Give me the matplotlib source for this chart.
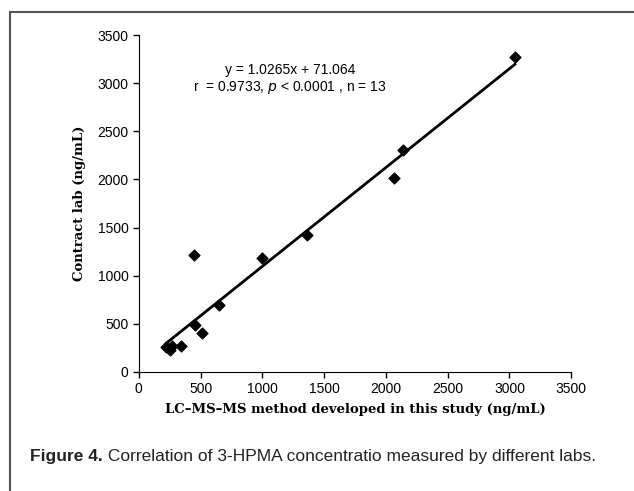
import matplotlib.pyplot as plt
from matplotlib.patches import Rectangle
import numpy as np

# Values
this_study = [220, 253, 269, 344, 443, 453, 512, 650, 1000, 1361, 2063, 2142, 3044]
contract_lab = [258, 224, 275, 275, 1211, 489, 403, 695, 1184, 1425, 2013, 2306, 3269]
slope = 1.0265
intercept = 71.064
ticks = [0, 500, 1000, 1500, 2000, 2500, 3000, 3500]

fig = plt.figure(figsize=(6.34, 4.91), dpi=100)

# Frame round the figure (open at right and bottom like the page crop)
fig.patches.append(Rectangle((10 / 634, -0.1), 1.2, 1 - 12 / 491 + 0.1,
                             transform=fig.transFigure, fill=False,
                             edgecolor='#555555', linewidth=1.5))

ax = fig.add_axes([0.219, 0.2424, 0.682, 0.6863])

ax.scatter(this_study, contract_lab, marker='D', s=30, color='black', zorder=3)

# Regression line
xs = np.array([min(this_study), max(this_study)])
ax.plot(xs, slope * xs + intercept, color='black', linewidth=2)

ax.set_xlim(0, 3500)
ax.set_ylim(0, 3500)
ax.set_xticks(ticks)
ax.set_yticks(ticks)
ax.tick_params(labelsize=10, length=4, width=1, direction='out')
for lbl in ax.get_xticklabels() + ax.get_yticklabels():
    lbl.set_family('Liberation Sans')
ax.spines['top'].set_visible(False)
ax.spines['right'].set_visible(False)

ax.set_xlabel('LC\u2013MS\u2013MS method developed in this study (ng/mL)',
              fontsize=9.5, fontweight='bold', family='DejaVu Serif', labelpad=5)
ax.set_ylabel('Contract lab (ng/mL)', fontsize=9.5, fontweight='bold',
              family='DejaVu Serif', labelpad=8)

ax.text(1223, 3136, 'y = 1.0265x + 71.064', ha='center', va='center',
        fontsize=10, family='Liberation Sans')
ax.text(1223, 2950, r'r  = 0.9733, $\it{p}$ < 0.0001 , n = 13', ha='center',
        va='center', fontsize=10, family='Liberation Sans')

# Caption: bold lead-in followed by regular text
lead = fig.text(30 / 634, 1 - 456 / 491, 'Figure 4.', fontsize=12.5, fontweight='bold',
                family='Liberation Sans', va='center', color='#222222')
fig.add_artist(plt.Annotation(
    ' Correlation of 3-HPMA concentratio measured by different labs.',
    xy=(1, 0.5), xycoords=lead, va='center', ha='left',
    fontsize=12.5, family='Liberation Sans', color='#222222'))

plt.savefig('out.png', dpi=100)
